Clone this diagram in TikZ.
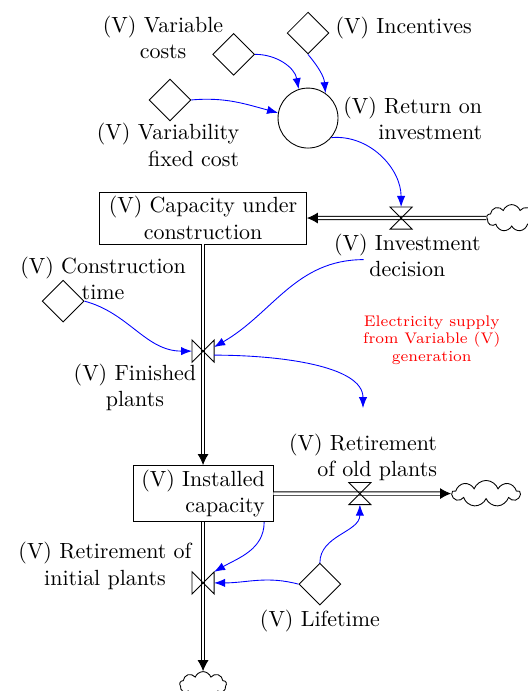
\documentclass[tikz,border=0pt]{standalone}
\usepackage{tikz}
\usetikzlibrary{arrows.meta,positioning,shapes.geometric,shapes.symbols}

\begin{document}
\begin{tikzpicture}[>={Latex[length=5pt,width=3.8pt]},scale=1.0,
  stk/.style={rectangle,draw,align=center,inner sep=2pt},
  cst/.style={diamond,draw,aspect=1,minimum size=6.7mm,inner sep=0pt},
  aux/.style={circle,draw,minimum size=9.6mm,inner sep=0pt},
  vlv/.style={minimum size=3.4mm,inner sep=0pt},
  cld/.style={cloud,draw,cloud puffs=9,cloud puff arc=140,aspect=2.2,inner sep=0pt},
  pipe/.style={double,double distance=1.1pt,-{Latex[length=5pt,width=5pt]}},
  ar/.style={->,blue},lab/.style={align=center,inner sep=1pt}]
\useasboundingbox (0,0) rectangle (8.45,11.06);
% auxiliaries and constants
\node[aux] (roi) at (4.93,9.17) {}; \node[lab,align=right,right=1pt of roi] (roil) {(V) Return on\\investment};
\node[cst] (inc) at (4.93,10.53) {}; \node[lab] (incl) at (6.46,10.61) {(V) Incentives};
\node[cst] (vc) at (3.74,10.19) {};  \node[lab] (vcl) at (2.61,10.46) {(V) Variable\\costs};
\node[cst] (vfc) at (2.72,9.46) {};  \node[lab,align=right] (vfcl) at (2.69,8.74) {(V) Variability\\fixed cost};
% stocks, valves, clouds
\node[stk,minimum width=3.31cm,minimum height=0.82cm] (cap) at (3.25,7.57) {(V) Capacity under\\construction};
\node[vlv] (v1) at (6.42,7.57) {}; \node[lab,below=1pt of v1,xshift=1mm] (invl) {(V) Investment\\decision};
\node[cld,minimum width=0.8cm,minimum height=0.43cm] (cl1) at (8.19,7.57) {};
\node[vlv] (v2) at (3.25,5.44) {}; \node[lab] (fpl) at (2.16,4.86) {(V) Finished\\plants};
\node[cst] (ct) at (1.01,6.24) {};  \node[lab] (ctl) at (1.65,6.6) {(V) Construction\\time};
\node[font=\scriptsize,text=red,align=center] (note) at (6.91,5.62) {Electricity supply\\from Variable (V)\\generation};
\node[stk,align=right,minimum width=2.24cm,minimum height=0.85cm] (ic) at (3.25,3.16) {(V) Installed\\capacity};
\node[vlv] (v3) at (5.76,3.16) {}; \node[lab,align=right] (retl) at (5.81,3.74) {(V) Retirement\\of old plants};
\node[cld,minimum width=1.09cm,minimum height=0.42cm] (cl2) at (7.78,3.16) {};
\node[vlv] (v4) at (3.25,1.73) {}; \node[lab] (ripl) at (1.68,2.0) {(V) Retirement of\\initial plants};
\node[cst] (lt) at (5.12,1.71) {}; \node[lab,below=1pt of lt] (ltl) {(V) Lifetime};
\node[cld,minimum width=0.75cm,minimum height=0.42cm] (cl3) at (3.25,0.1) {};
% flows
\draw[pipe] (cl1) -- (cap); \draw[pipe] (cap) -- (ic);
\draw[pipe] (ic) -- (cl2);  \draw[pipe] (ic) -- (cl3);
\foreach \v in {v1,v3} \draw (\v.north west) -- (\v.north east) -- (\v.south west) -- (\v.south east) -- cycle;
\foreach \v in {v2,v4} \draw (\v.north west) -- (\v.south west) -- (\v.north east) -- (\v.south east) -- cycle;
% information links
\draw[ar] (vc.east) to[out=0,in=100] (roi.108);
\draw[ar] (inc.south) to[out=-50,in=95] (roi.55);
\draw[ar] (vfc.east) to[out=5,in=165] (roi.170);
\draw[ar] (roi.-40) to[out=5,in=90] (v1.north);
\draw[ar] ([shift={(-0.70,0.32)}]invl.south) to[out=180,in=30] (v2.20);
\draw[ar] (ct.east) to[out=-15,in=180] (v2.west);
\draw[ar,shorten >=3.7mm] (v2.-20) to[out=0,in=90] (retl.north);
\draw[ar] (ic.-25) to[out=-90,in=30] (v4.north east);
\draw[ar] (lt.west) to[out=165,in=0] (v4.east);
\draw[ar] (lt.north) to[out=90,in=-90] (v3.south);
\end{tikzpicture}
\end{document}
